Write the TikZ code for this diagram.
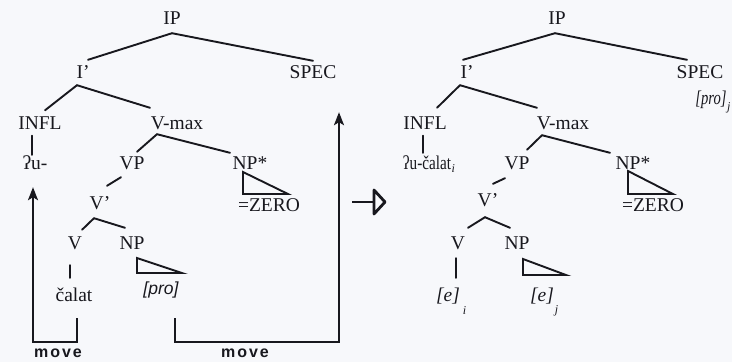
\documentclass[tikz,border=0pt]{standalone}
\usepackage{fontspec}
\setmainfont{Liberation Serif}
\setsansfont{Liberation Sans}
\usetikzlibrary{calc,arrows.meta}
\definecolor{ink}{RGB}{24,24,30}
\definecolor{paper}{RGB}{247,248,251}
\newcommand{\lsub}[3]{\rlap{\kern#1\raisebox{-#2}{\fontsize{12}{12}\selectfont\itshape #3}}}
\begin{document}
\begin{tikzpicture}[x=1pt,y=-1pt,
  lab/.style={font=\fontsize{19.5}{21}\selectfont, text=ink, inner xsep=1pt, inner ysep=6pt, text height=13pt, text depth=0pt},
  itl/.style={lab, font=\fontsize{19.5}{21}\selectfont\itshape},
  br/.style={draw=ink, line width=1.9pt, line cap=round},
  tri/.style={draw=ink, line width=1.9pt, line join=miter},
  mv/.style={draw=ink, line width=2pt, -{Stealth[length=13pt,width=10pt,inset=3pt]}},
  mvlab/.style={font=\sffamily\bfseries\fontsize{16}{16}\selectfont\addfontfeatures{LetterSpace=12}, text=ink, inner sep=0pt},
  bigarrow/.style={draw=ink, line width=2.8pt, line join=round},
]
\useasboundingbox (0,0) rectangle (732,362);
\fill[paper] (0,0) rectangle (732,362);

% ---------------- left tree ----------------
\node[lab] (IP) at (172,18) {IP};
\node[lab] (Ib) at (83,72) {I'};
\node[lab] (SPEC) at (313,72) {SPEC};
\node[lab] (INFL) at (40,123) {INFL};
\node[lab] (Vmax) at (177,123) {V-max};
\node[lab] (ua) at (35,163) {ʔu-};
\node[lab] (VP) at (132,163) {VP};
\node[lab] (NPs) at (250,163) {NP*};
\node[lab] (zero) at (269,205) {=ZERO};
\node[lab] (Vb) at (100,203) {V'};
\node[lab] (V) at (75,243) {V};
\node[lab] (NP) at (132,243) {NP};
\node[lab] (calat) at (74,295) {čalat};
\node[lab, font=\sffamily\itshape\fontsize{17.5}{19}\selectfont] (pro) at (161,288) {[pro]};

\draw[br] ($(IP.south)+(0,2.5)$) -- ($(Ib.north)+(5,0.5)$);
\draw[br] ($(IP.south)+(0,2.5)$) -- ($(SPEC.north)+(0,1.5)$);
\draw[br] ($(Ib.south)+(-6,0.5)$) -- ($(INFL.north)+(5,0)$);
\draw[br] ($(Ib.south)+(-6,0.5)$) -- ($(Vmax.north)+(-27,-2.5)$);
\draw[br] ($(INFL.south)+(-8,0)$) -- ($(ua.north)+(-3,4.5)$);
\draw[br] ($(Vmax.south)+(-20,-1.5)$) -- ($(VP.north)+(5,1.5)$);
\draw[br] ($(Vmax.south)+(-20,-1.5)$) -- ($(NPs.north)+(-20,2.5)$);
\draw[br] ($(VP.south)+(-11,1.5)$) -- ($(Vb.north)+(7,-4.5)$);
\draw[br] ($(Vb.south)+(-6,2.5)$) -- ($(V.north)+(7,-0.5)$);
\draw[br] ($(Vb.south)+(-6,2.5)$) -- ($(NP.north)+(-7,-2.5)$);
\draw[br] ($(V.south)+(-5,9.5)$) -- ($(calat.north)+(-4,-4.5)$);
\draw[tri] ($(NP.center)+(5,15)$) -- ++(0,15) -- ++(45,0) -- cycle;
\draw[tri] ($(NPs.center)+(-7,9)$) -- ++(0,22) -- ++(45,0) -- cycle;

\draw[mv] ($(calat.south)+(3,10.5)$) -- ++(0,24) -| ($(ua.south)+(-2,11.5)$);
\draw[mv] ($(pro.south)+(14,17.5)$) -- ++(0,24) -| ($(SPEC.south)+(26,27.5)$);
\node[mvlab] (mv1) at (58,353) {move};
\node[mvlab] (mv2) at (245,353) {move};

% ---------------- middle arrow ----------------
\coordinate (maL) at (352,202);
\coordinate (maR) at (374,202);
\draw[bigarrow] (maL) -- (maR);
\draw[bigarrow] ($(maR)+(0,-12)$) -- ($(maR)+(0,12)$) -- ($(maR)+(11,0)$) -- cycle;

% ---------------- right tree ----------------
\node[lab] (IP2) at (557,18) {IP};
\node[lab] (Ib2) at (467,72) {I'};
\node[lab] (SPEC2) at (700,72) {SPEC};
\node[itl] (pro2) at (711,98) {\scalebox{0.75}[1]{[pro]}\lsub{0.5pt}{6pt}{j}};
\node[lab] (INFL2) at (425,123) {INFL};
\node[lab] (Vmax2) at (563,123) {V-max};
\node[lab] (u2) at (427,163) {\scalebox{0.78}[1]{ʔu-čalat}\lsub{0.5pt}{3pt}{i}};
\node[lab] (VP2) at (517,163) {VP};
\node[lab] (NPs2) at (633,163) {NP*};
\node[lab] (zero2) at (653,205) {=ZERO};
\node[lab] (Vb2) at (488,200) {V'};
\node[lab] (V2) at (458,243) {V};
\node[lab] (NP2) at (517,243) {NP};
\node[itl] (ei) at (448,295) {[e]\lsub{3pt}{13pt}{i}};
\node[itl] (ej) at (542,295) {[e]\lsub{1pt}{12pt}{j}};

\draw[br] ($(IP2.south)+(-2,2.5)$) -- ($(Ib2.north)+(-4,0.5)$);
\draw[br] ($(IP2.south)+(-2,2.5)$) -- ($(SPEC2.north)+(-13,0.5)$);
\draw[br] ($(Ib2.south)+(-7,0.5)$) -- ($(INFL2.north)+(12,-2.5)$);
\draw[br] ($(Ib2.south)+(-7,0.5)$) -- ($(Vmax2.north)+(-26,-2.5)$);
\draw[br] ($(INFL2.south)+(-2,0)$) -- ($(u2.north)+(-4,2.5)$);
\draw[br] ($(Vmax2.south)+(-21,-0.5)$) -- ($(VP2.north)+(10,-0.5)$);
\draw[br] ($(Vmax2.south)+(-21,-0.5)$) -- ($(NPs2.north)+(-23,2.5)$);
\draw[br] ($(VP2.south)+(-12,2.5)$) -- ($(Vb2.north)+(5,-3.5)$);
\draw[br] ($(Vb2.south)+(-3,4.5)$) -- ($(V2.north)+(10,-2.5)$);
\draw[br] ($(Vb2.south)+(-3,4.5)$) -- ($(NP2.north)+(-7,-2.5)$);
\draw[br] ($(V2.south)+(-2,2.5)$) -- ($(ei.north)+(8,-4.5)$);
\draw[tri] ($(NP2.center)+(6,16)$) -- ++(0,16) -- ++(43,0) -- cycle;
\draw[tri] ($(NPs2.center)+(-5,8)$) -- ++(0,23) -- ++(45,0) -- cycle;
\end{tikzpicture}
\end{document}
